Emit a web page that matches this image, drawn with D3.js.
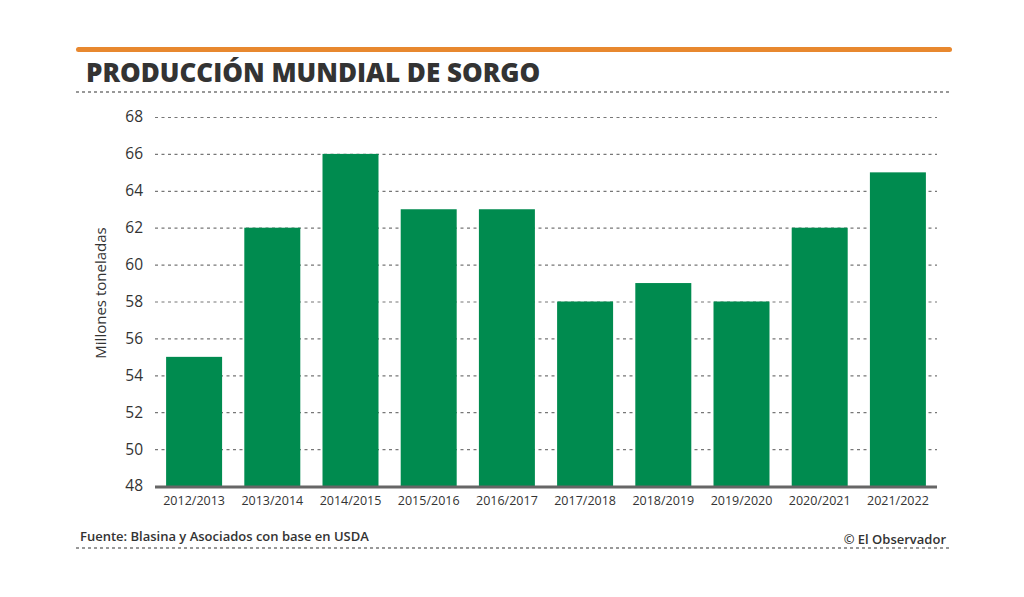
<!DOCTYPE html>
<html><head><meta charset="utf-8">
<script src="https://cdn.jsdelivr.net/npm/d3@7"></script>
<style>body{margin:0;background:#fff}svg{display:block}</style>
</head><body>
<svg id="c" width="1024" height="597"></svg>
<script>
const categories = ["2012/2013","2013/2014","2014/2015","2015/2016","2016/2017","2017/2018","2018/2019","2019/2020","2020/2021","2021/2022"];
const values = [55,62,66,63,63,58,59,58,62,65];
const yTicks = [48,50,52,54,56,58,60,62,64,66,68];

(function(){
const svg = d3.select("#c");
const green = "#008b4f", grey = "#777";
const pL = 155, pR = 937, pT = 117, pB = 486;

svg.append("rect").attr("x",76).attr("y",47).attr("width",876).attr("height",5).attr("rx",2.5).attr("fill","#e8882f");
svg.append("text").attr("x",86).attr("y",82).text("PRODUCCIÓN MUNDIAL DE SORGO")
  .attr("font-family","Open Sans").attr("font-weight",800).attr("font-size",26).attr("fill","#333");
svg.append("line").attr("x1",76).attr("x2",952).attr("y1",92).attr("y2",92)
  .attr("stroke",grey).attr("stroke-width",1.3).attr("stroke-dasharray","3,3");

const x = d3.scaleBand().domain(categories).range([pL,pR]).paddingInner(0.284).paddingOuter(0.142);
const y = d3.scaleLinear().domain([48,68]).range([pB,pT]);

const ga = svg.append("g").attr("transform",`translate(${pL},0)`)
  .call(d3.axisLeft(y).tickValues(yTicks).tickSize(-(pR-pL)).tickPadding(12));
ga.select(".domain").remove();
ga.selectAll(".tick line").attr("stroke",grey).attr("stroke-width",1.2).attr("stroke-dasharray","3,3.5");
ga.selectAll(".tick text").attr("font-family","Open Sans").attr("font-size",15.5).attr("fill","#333");
ga.selectAll(".tick").filter(d=>d===48).select("line").remove();

svg.append("g").selectAll("rect").data(values).join("rect")
  .attr("x",(d,i)=>x(categories[i])).attr("width",x.bandwidth())
  .attr("y",d=>y(d)).attr("height",d=>y(48)-y(d)).attr("fill",green);

svg.append("line").attr("x1",pL).attr("x2",pR).attr("y1",pB+1).attr("y2",pB+1)
  .attr("stroke","#666").attr("stroke-width",3);

const gx = svg.append("g").attr("transform",`translate(0,${pB})`)
  .call(d3.axisBottom(x).tickSize(0).tickPadding(10));
gx.select(".domain").remove();
gx.selectAll(".tick text").attr("font-family","Open Sans").attr("font-size",12.5).attr("fill","#333");

svg.append("text").attr("transform",`translate(106,293) rotate(-90)`)
  .attr("text-anchor","middle").text("Millones toneladas")
  .attr("font-family","Open Sans").attr("font-size",15).attr("fill","#333");

svg.append("text").attr("x",80).attr("y",541).text("Fuente: Blasina y Asociados con base en USDA")
  .attr("font-family","Open Sans").attr("font-weight",600).attr("font-size",13).attr("fill","#333");
svg.append("text").attr("x",946).attr("y",544).attr("text-anchor","end").text("© El Observador")
  .attr("font-family","Open Sans").attr("font-weight",600).attr("font-size",13).attr("fill","#333");
svg.append("line").attr("x1",76).attr("x2",952).attr("y1",548).attr("y2",548)
  .attr("stroke",grey).attr("stroke-width",1.3).attr("stroke-dasharray","3,3");
})();
</script>
</body></html>
